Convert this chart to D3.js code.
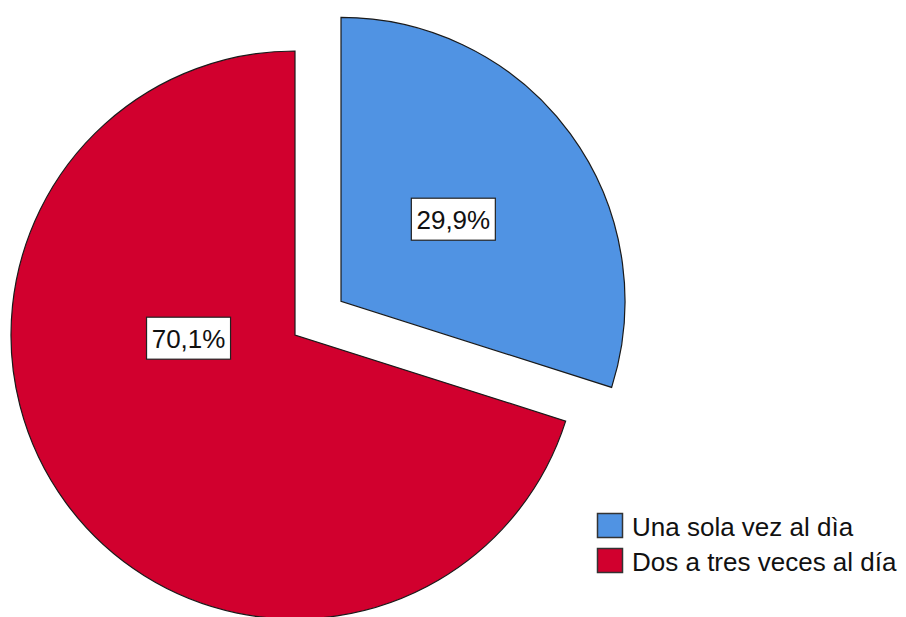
<!DOCTYPE html>
<html>
<head>
<meta charset="utf-8">
<script src="https://cdn.jsdelivr.net/npm/d3@7"></script>
<style>
  body { margin: 0; background: #fff; }
  text { font-family: "Liberation Sans", Arial, sans-serif; }
</style>
</head>
<body>
<div id="chart"></div>
<script>
const width = 906;
const height = 617;

// datos
const categories = ["Una sola vez al dìa", "Dos a tres veces al día"];
const values = [29.9, 70.1];
const colors = ["#5093e3", "#d1002e"];

const radius = 284;
const cx = 295, cy = 335;      // centro del pie
const explode = 57;            // desplazamiento del sector separado
// posicion de las etiquetas (angulo en rad desde arriba, fraccion del radio)
const labelPos = [null, { angle: -Math.PI / 2 - 0.03, r: 0.375 }];

const svg = d3.select("#chart").append("svg")
    .attr("width", width)
    .attr("height", height);

const pie = d3.pie().sort(null).value(d => d)(values);
const arc = d3.arc().innerRadius(0).outerRadius(radius);

const g = svg.append("g").attr("transform", `translate(${cx},${cy})`);

const slices = g.selectAll("g.slice")
    .data(pie)
    .enter().append("g")
    .attr("class", "slice")
    .attr("transform", (d, i) => {
        if (i !== 0) return null;
        const a = (d.startAngle + d.endAngle) / 2;
        return `translate(${Math.sin(a) * explode},${-Math.cos(a) * explode})`;
    });

slices.append("path")
    .attr("d", arc)
    .attr("fill", (d, i) => colors[i])
    .attr("stroke", "#1a1a1a")
    .attr("stroke-width", 1.2)
    .attr("stroke-linejoin", "miter");

// etiquetas de porcentaje
slices.each(function (d, i) {
    let a, rr;
    if (labelPos[i]) { a = labelPos[i].angle; rr = labelPos[i].r; }
    else { a = (d.startAngle + d.endAngle) / 2; rr = 0.49; }
    const x = Math.sin(a) * radius * rr;
    const y = -Math.cos(a) * radius * rr;
    const lg = d3.select(this).append("g").attr("transform", `translate(${x},${y})`);
    const txt = values[i].toFixed(1).replace(".", ",") + "%";
    lg.append("rect")
        .attr("x", -42).attr("y", -21)
        .attr("width", 84).attr("height", 42)
        .attr("fill", "#fff")
        .attr("stroke", "#222")
        .attr("stroke-width", 1.2);
    lg.append("text")
        .attr("text-anchor", "middle")
        .attr("y", 10)
        .attr("font-size", 26)
        .attr("fill", "#111")
        .text(txt);
});

// leyenda
const legend = svg.append("g").attr("transform", "translate(597,513)");
const rows = legend.selectAll("g")
    .data(categories)
    .enter().append("g")
    .attr("transform", (d, i) => `translate(0,${i * 35})`);

rows.append("rect")
    .attr("x", 0.5).attr("y", 0.5)
    .attr("width", 25).attr("height", 24)
    .attr("fill", (d, i) => colors[i])
    .attr("stroke", "#333")
    .attr("stroke-width", 1.5);

rows.append("text")
    .attr("x", 35)
    .attr("y", 23)
    .attr("font-size", 26)
    .attr("fill", "#111")
    .text(d => d);
</script>
</body>
</html>
